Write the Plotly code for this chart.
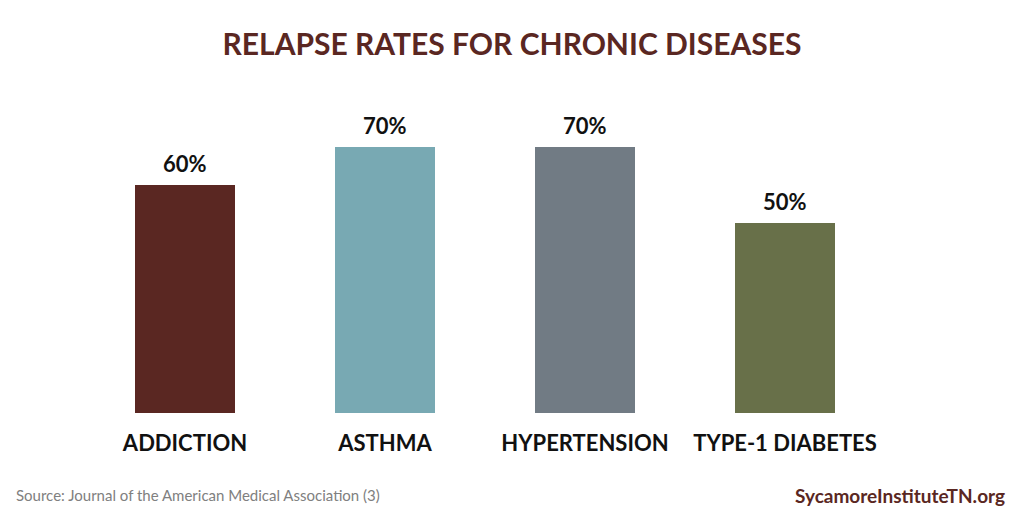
import plotly.graph_objects as go

categories = ["ADDICTION", "ASTHMA", "HYPERTENSION", "TYPE-1 DIABETES"]
values = [60, 70, 70, 50]
colors = ["#5a2722", "#78a9b3", "#717b84", "#687049"]

# page body has 8px offset; coordinates below compensate for it
OFF = 8
L, T, B, R = 85 - OFF, 109 - OFF, 413 - OFF, 885 - OFF
W, H = 1024, 512

fig = go.Figure(go.Bar(
    x=categories, y=values,
    marker=dict(color=colors, line=dict(width=0)),
    hoverinfo="skip",
))

annotations = [
    dict(x=c, y=v, xref="x", yref="y", text=f"<b>{v}%</b>", showarrow=False,
         yanchor="middle", yshift=22,
         font=dict(family="Lato, Open Sans, sans-serif", size=22, color="#111111"))
    for c, v in zip(categories, values)
]
pw, ph = R - L, B - T
annotations += [
    dict(text="Source: Journal of the American Medical Association (3)", xref="paper", yref="paper",
         x=(14 - OFF - L) / pw, y=-(495 - 413) / ph, xanchor="left", yanchor="middle", showarrow=False,
         font=dict(family="Lato, sans-serif", size=15, color="#808080")),
    dict(text="<b>SycamoreInstituteTN.org</b>", xref="paper", yref="paper",
         x=(1007 - OFF - L) / pw, y=-(495 - 413) / ph, xanchor="right", yanchor="middle", showarrow=False,
         font=dict(family="Lato, sans-serif", size=19, color="#5a2722")),
]

fig.update_layout(
    width=W, height=H,
    margin=dict(l=L, r=W - R, t=T, b=H - B),
    paper_bgcolor="white", plot_bgcolor="white",
    bargap=0.5,
    showlegend=False,
    title=dict(text="RELAPSE RATES FOR CHRONIC DISEASES", x=(512 - OFF) / W, xanchor="center",
               y=1 - (44 - OFF) / H, yanchor="middle",
               font=dict(family="Lato, Open Sans, sans-serif", size=30, color="#5a2722", weight="bold")),
    xaxis=dict(showgrid=False, zeroline=False, showline=False, ticks="",
               tickfont=dict(family="Lato, sans-serif", size=22, color="#111111", weight="bold"),
               ticklabelstandoff=15),
    yaxis=dict(range=[0, 80], visible=False),
    annotations=annotations,
)

fig.write_html("out.html")
